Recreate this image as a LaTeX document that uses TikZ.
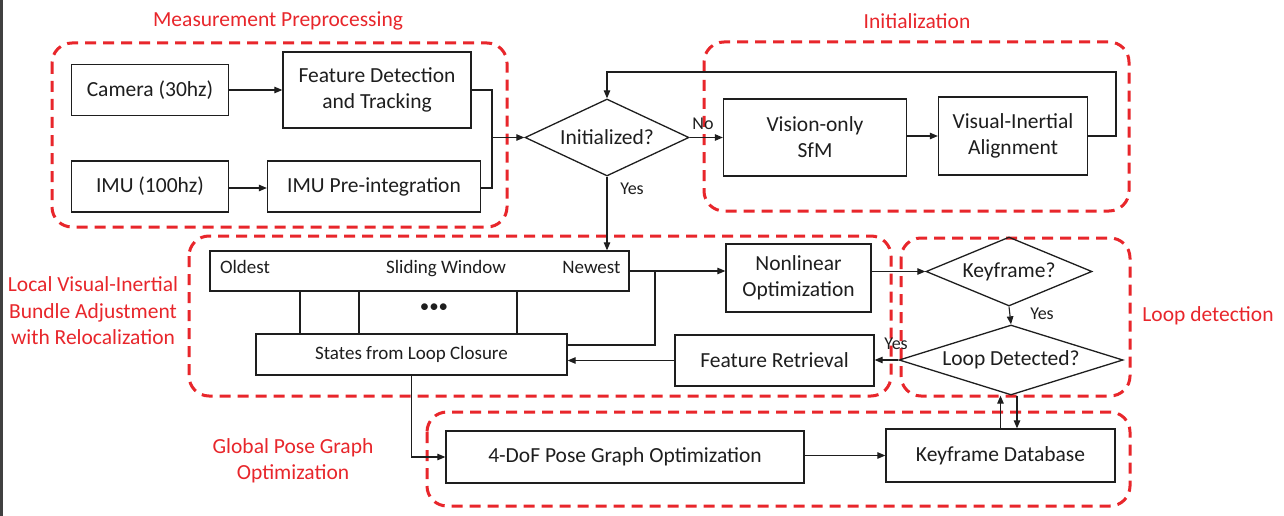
\documentclass[tikz,border=0pt]{standalone}
\usepackage{fontspec}
\setmainfont{Carlito}
\usetikzlibrary{arrows.meta,shapes.geometric,calc}
\definecolor{lred}{HTML}{E8262B}
\definecolor{ink}{HTML}{1E1E1E}
\begin{document}
\begin{tikzpicture}[x=1pt,y=-1pt,
  box/.style={draw=ink, line width=1.3pt, rectangle, inner sep=0pt, align=center, text=ink, font=\fontsize{21.5}{26}\selectfont},
  dia/.style={draw=ink, line width=1.3pt, diamond, inner sep=0pt, align=center, text=ink, font=\fontsize{21.5}{26}\selectfont},
  small/.style={font=\fontsize{19}{22}\selectfont, inner sep=0pt, text=ink, text height=0.72em, text depth=0.2em},
  lbl/.style={font=\fontsize{18}{22}\selectfont, inner sep=0pt, text=ink},
  grp/.style={draw=lred, line width=3pt, dash pattern=on 11pt off 7pt, rounded corners=20pt},
  grplbl/.style={text=lred, font=\fontsize{21.5}{26.5}\selectfont, align=center, inner sep=0pt},
  conn/.style={draw=ink, line width=1.1pt},
  arr/.style={conn, -{Triangle[length=8pt,width=6.5pt]}},
]
\useasboundingbox (0,0) rectangle (1284,516);
\fill[white] (0,0) rectangle (1284,516);
\fill[black!75] (0,0) rectangle (2.5,516);

% group frames
\draw[grp] (52,43) rectangle (507,227);
\draw[grp] (704,42) rectangle (1129,211);
\draw[grp] (189,236) rectangle (891,396);
\draw[grp] (901,238) rectangle (1130,396);
\draw[grp] (427,412) rectangle (1130,506);

% group labels
\node[grplbl] (lmp) at (278,21) {Measurement Preprocessing};
\node[grplbl] (linit) at (917,21) {Initialization};
\node[grplbl] (llba) at (93,311) {Local Visual-Inertial\\Bundle Adjustment\\with Relocalization};
\node[grplbl] (lloop) at (1208,316) {Loop detection};
\node[grplbl] (lgpo) at (293,461) {Global Pose Graph\\Optimization};

% nodes
\node[box, minimum width=157pt, minimum height=51pt] (cam) at (150,90) {Camera (30hz)};
\node[box, minimum width=188pt, minimum height=76pt] (fdt) at (377,90) {Feature Detection\\and Tracking};
\node[box, minimum width=157pt, minimum height=51pt] (imu) at (150,186.5) {IMU (100hz)};
\node[box, minimum width=213pt, minimum height=51pt] (imupre) at (374,186.5) {IMU Pre-integration};
\node[dia, aspect=2.13, minimum width=164pt, minimum height=77pt] (init) at (607,137.5) {Initialized?};
\node[box, minimum width=183pt, minimum height=77pt] (vis) at (815,137.5) {Vision-only\\SfM};
\node[box, minimum width=149pt, minimum height=78pt] (via) at (1013,136) {Visual-Inertial\\Alignment};
\node[box, minimum width=419pt, minimum height=40pt] (sw) at (419.5,271) {};
\node[small, anchor=west] (old) at ([xshift=10.5pt]sw.west) {Oldest};
\node[small] (swt) at (446,271) {Sliding Window};
\node[small, anchor=east] (new) at ([xshift=-9pt]sw.east) {Newest};
\node[small] (dots) at (434,310) {•••};
\node[box, font=\fontsize{19}{22}\selectfont, minimum width=311pt, minimum height=41pt] (states) at (411.5,354.5) {States from Loop Closure};
\node[box, minimum width=145pt, minimum height=68pt] (nlo) at (798.5,278) {Nonlinear\\Optimization};
\node[dia, aspect=2.4, minimum width=166pt, minimum height=69pt] (kf) at (1009,271.5) {Keyframe?};
\node[dia, aspect=3.2, minimum width=224pt, minimum height=70pt] (ld) at (1011,360) {Loop Detected?};
\node[box, minimum width=199pt, minimum height=51pt] (fr) at (774.5,360.5) {Feature Retrieval};
\node[box, minimum width=358pt, minimum height=52pt] (pgo) at (625,457) {4-DoF Pose Graph Optimization};
\node[box, minimum width=229pt, minimum height=53pt] (kdb) at (1000.5,455.5) {Keyframe Database};

% helper coordinates
\coordinate (mbot) at (492,188);
\coordinate (mmid) at (492,137.5);
\coordinate (fb) at (1116,72);
\coordinate (j1) at (655,271);
\coordinate (v1) at (300,0);
\coordinate (v2) at (359,0);
\coordinate (v3) at (517,0);

% connectors
\draw[arr] (cam.east) -- (cam.east -| fdt.west);
\draw[arr] (imu.east |- mbot) -- (mbot -| imupre.west);
\draw[conn] (fdt.east) -| (mbot) -- (mbot -| imupre.east);
\draw[arr] (mmid) -- (init.west);
\draw[arr] (init.east) -- (init.east -| vis.west);
\draw[arr] (vis.east |- via.west) -- (via.west);
\draw[arr] (via.east) -| (fb) -| (init.north);
\draw[arr] (init.south) -- (init.south |- sw.north);
\draw[arr] (sw.east) -- (sw.east -| nlo.west);
\draw[conn] (v1 |- sw.south) -- (v1 |- states.north);
\draw[conn] (v2 |- sw.south) -- (v2 |- states.north);
\draw[conn] (v3 |- sw.south) -- (v3 |- states.north);
\draw[conn] ([yshift=9.5pt]states.east) -| (j1);
\draw[arr] (kf.west -| nlo.east) -- (kf.west);
\draw[arr] (kf.south) -- (ld.north);
\draw[arr] (ld.west) -- (ld.west -| fr.east);
\draw[arr] (fr.west) -- (fr.west -| states.east);
\draw[arr] (states.south) |- (pgo.west);
\draw[arr] (pgo.east |- kdb.west) -- (kdb.west);
\draw[arr] (kdb.north) -- (kdb.north |- ld.south);
\draw[arr] ([xshift=6pt]ld.south) -- ([xshift=6pt]ld.south |- kdb.north);

% connector labels
\node[lbl] (lno) at (703,124) {No};
\node[lbl] (lyes1) at (632,189) {Yes};
\node[lbl] (lyes2) at (1042,314) {Yes};
\node[lbl] (lyes3) at (896,344) {Yes};
\end{tikzpicture}
\end{document}
